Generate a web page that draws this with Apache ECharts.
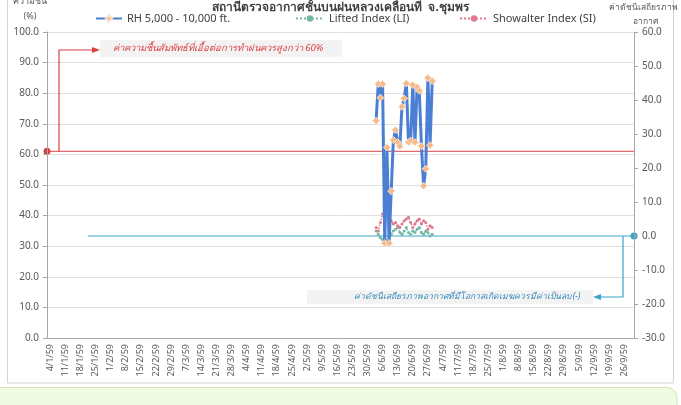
<!DOCTYPE html>
<html>
<head>
<meta charset="utf-8">
<script src="https://cdn.jsdelivr.net/npm/echarts@6/dist/echarts.min.js"></script>
<style>
  html, body { margin: 0; padding: 0; background: #fff; }
  #rain-chart { width: 681px; height: 405px; }
</style>
</head>
<body>
<div id="rain-chart"></div>
<script>
// axis day range (Buddhist year 59 = 2016)
var firstDay = [2016, 0, 3];
var dayCount = 272;

var leftTicks = [0, 100, 10];
var rightTicks = [-30, 60, 10];

// RH 5,000 - 10,000 ft. (%), daily from 3/6/59
var rhStart = '3/6/59';
var rhValues = [71, 83, 78.5, 83, 31, 62.3, 31, 48, 64.7, 68, 64, 62.7, 75.6, 78.3, 83.2,
    64, 64.5, 82.7, 64, 82, 80.8, 62.7, 49.7, 55.3, 85, 63, 84];

// Lifted Index (LI), Showalter Index (SI), daily from 3/6/59
var liValues = [1.5, 0.5, -0.5, -1, 0, -1.5, -1.5, 0.5, 1.5, 2, 2.5, 1, 0.5, 1.5, 2.5,
    1, 0.5, 1.5, 1, 2, 2.5, 1, 0.5, 1.5, 1, 0, 0.5];
var siValues = [2.5, 1.5, 4, 6.5, 5.5, 7, 6, 4.5, 3.5, 4, 3, 2.5, 3.5, 4.5, 5,
    5.5, 4, 2.5, 3.5, 4.5, 5, 3.5, 4.5, 4, 2, 3, 2.5];

var rhThreshold = 61;

var titleText = 'สถานีตรวจอากาศชั้นบนฝนหลวงเคลื่อนที่  จ.ชุมพร';
var rhNote = 'ค่าความชื้นสัมพัทธ์ที่เอื้อต่อการทำฝนควรสูงกว่า 60%';
var indexNote = 'ค่าดัชนีเสถียรภาพอากาศที่มีโอกาสเกิดเมฆควรมีค่าเป็นลบ (-)';

var days = [];
for (var i = 0; i < dayCount; i++) {
    var d = new Date(firstDay[0], firstDay[1], firstDay[2] + i);
    days.push(d.getDate() + '/' + (d.getMonth() + 1) + '/' + String(d.getFullYear() + 543).slice(2));
}

function pairs(values) {
    var s = days.indexOf(rhStart);
    return values.map(function (v, k) { return [days[s + k], v]; });
}

var weekly = function (idx) { return (idx - 1) % 7 === 0; };
var fmt1 = function (v) { return v.toFixed(1); };
var font = 'Noto Sans, sans-serif';

var dom = document.getElementById('rain-chart');
var myChart = echarts.init(dom, null, { renderer: 'canvas' });

var grid = { left: 47, right: 47, top: 32, bottom: 67 };
var legendText = { fontSize: 11, color: '#404040' };

var option = {
    animation: false,
    backgroundColor: '#fff',
    textStyle: { fontFamily: font },
    title: {
        text: titleText,
        left: 'center',
        top: -3,
        textStyle: { fontSize: 12, fontWeight: 'bold', color: '#404040', fontFamily: font }
    },
    legend: [
        { top: 8, left: 90, itemWidth: 26, itemHeight: 8, textStyle: legendText, data: ['RH 5,000 - 10,000 ft.'] },
        { top: 8, left: 290, itemWidth: 28, itemHeight: 8, textStyle: legendText, data: ['Lifted Index (LI)'] },
        { top: 8, left: 454, itemWidth: 28, itemHeight: 8, textStyle: legendText, data: ['Showalter Index (SI)'] }
    ],
    grid: grid,
    xAxis: [
        {
            type: 'category',
            data: days,
            boundaryGap: true,
            axisLine: { lineStyle: { color: '#a6a6a6' } },
            axisTick: { interval: weekly, alignWithLabel: true, length: 5, lineStyle: { color: '#a6a6a6' } },
            axisLabel: { interval: weekly, rotate: 90, fontSize: 9, color: '#595959', margin: 6 },
            splitLine: { show: false }
        },
        {
            type: 'category',
            data: days,
            position: 'bottom',
            boundaryGap: true,
            axisLine: { show: false },
            axisTick: { interval: 0, length: 3, lineStyle: { color: '#b8b8b8' } },
            axisLabel: { show: false },
            splitLine: { show: false }
        }
    ],
    yAxis: [
        {
            type: 'value',
            min: leftTicks[0],
            max: leftTicks[1],
            interval: leftTicks[2],
            axisLine: { show: true, lineStyle: { color: '#a6a6a6' } },
            axisTick: { show: true, length: 4, lineStyle: { color: '#a6a6a6' } },
            axisLabel: { formatter: fmt1, fontSize: 10, color: '#595959', margin: 8 },
            splitLine: { lineStyle: { color: '#e0e0e0' } }
        },
        {
            type: 'value',
            min: rightTicks[0],
            max: rightTicks[1],
            interval: rightTicks[2],
            position: 'right',
            axisLine: { show: true, lineStyle: { color: '#a6a6a6' } },
            axisTick: { show: true, length: 4, lineStyle: { color: '#a6a6a6' } },
            axisLabel: { formatter: fmt1, fontSize: 10, color: '#595959', margin: 8 },
            splitLine: { show: false }
        }
    ],
    series: [
        {
            name: 'RH 5,000 - 10,000 ft.',
            type: 'line',
            yAxisIndex: 0,
            data: pairs(rhValues),
            symbol: 'diamond',
            symbolSize: 7,
            showAllSymbol: true,
            lineStyle: { color: '#4a7fd4', width: 3 },
            itemStyle: { color: '#f5b98a', borderColor: '#fbe0c8', borderWidth: 1 },
            z: 5
        },
        {
            name: 'Lifted Index (LI)',
            type: 'line',
            yAxisIndex: 1,
            data: pairs(liValues),
            symbol: 'circle',
            symbolSize: 3,
            showAllSymbol: true,
            lineStyle: { color: '#72b8a6', width: 1.5, type: 'dotted' },
            itemStyle: { color: '#72b8a6' },
            z: 3
        },
        {
            name: 'Showalter Index (SI)',
            type: 'line',
            yAxisIndex: 1,
            data: pairs(siValues),
            symbol: 'circle',
            symbolSize: 3,
            showAllSymbol: true,
            lineStyle: { color: '#e0788f', width: 1.5, type: 'dotted' },
            itemStyle: { color: '#e0788f' },
            z: 4
        }
    ]
};

myChart.setOption(option);

// annotations placed from the axis scales
var plotLeft = grid.left;
var plotRight = 681 - grid.right;
var yRed = myChart.convertToPixel({ yAxisIndex: 0 }, rhThreshold);
var yZero = myChart.convertToPixel({ yAxisIndex: 1 }, 0);
var red = '#dc3f42';
var blue = '#3aa3c8';

myChart.setOption({
    graphic: [
        // outer frame and the green box below
        { type: 'rect', shape: { x: 7.5, y: -5, width: 666, height: 388 }, style: { fill: 'none', stroke: '#d4d4d4', lineWidth: 1 }, z: -10, silent: true },
        { type: 'rect', shape: { x: -10, y: 387.5, width: 687, height: 40, r: 10 }, style: { fill: '#f1fbe4', stroke: '#cfe6ad', lineWidth: 1 }, z: -10, silent: true },
        // axis names
        { type: 'text', x: 30, y: -3, style: { text: 'ความชื้น', fill: '#595959', font: '9px ' + font, align: 'center' } },
        { type: 'text', x: 30, y: 12, style: { text: '(%)', fill: '#595959', font: '9px ' + font, align: 'center' } },
        { type: 'text', x: 643, y: 3, style: { text: 'ค่าดัชนีเสถียรภาพ', fill: '#595959', font: '8.5px ' + font, align: 'center' } },
        { type: 'text', x: 645, y: 17, style: { text: 'อากาศ', fill: '#595959', font: '8.5px ' + font, align: 'center' } },
        // RH threshold line and note
        { type: 'line', shape: { x1: plotLeft, y1: yRed, x2: plotRight, y2: yRed }, style: { stroke: '#e36a6e', lineWidth: 1.2 } },
        { type: 'circle', shape: { cx: plotLeft, cy: yRed, r: 3.5 }, style: { fill: red } },
        { type: 'polyline', shape: { points: [[59, yRed], [59, 50], [98, 50]] }, style: { stroke: red, lineWidth: 1.2, fill: 'none' } },
        { type: 'polygon', shape: { points: [[92, 47], [100, 50], [92, 53]] }, style: { fill: red } },
        { type: 'rect', shape: { x: 100, y: 40, width: 242, height: 17 }, style: { fill: '#f3f3f3' } },
        { type: 'text', x: 218, y: 48.5, style: { text: rhNote, fill: red, font: 'italic 9.5px ' + font, align: 'center', verticalAlign: 'middle' } },
        // stability index note
        { type: 'line', shape: { x1: 88, y1: yZero, x2: plotRight, y2: yZero }, style: { stroke: blue, lineWidth: 1 } },
        { type: 'circle', shape: { cx: plotRight, cy: yZero, r: 3.5 }, style: { fill: blue } },
        { type: 'polyline', shape: { points: [[623, yZero], [623, 297], [595, 297]] }, style: { stroke: blue, lineWidth: 1.2, fill: 'none' } },
        { type: 'polygon', shape: { points: [[601, 294], [593, 297], [601, 300]] }, style: { fill: blue } },
        { type: 'rect', shape: { x: 307, y: 290, width: 286, height: 14 }, style: { fill: '#f3f3f3' } },
        { type: 'text', x: 467, y: 297, style: { text: indexNote, fill: '#2f86b8', font: 'italic 8.5px ' + font, align: 'center', verticalAlign: 'middle' } }
    ]
});

window.addEventListener('resize', myChart.resize);
</script>
</body>
</html>
